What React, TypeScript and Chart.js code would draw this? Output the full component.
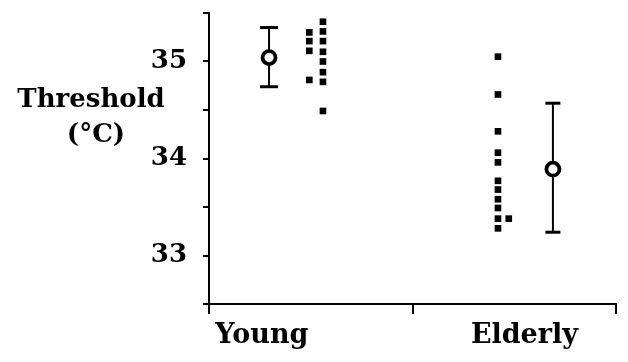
import React, { useEffect, useRef } from "react";
import { Chart, registerables } from "chart.js";

Chart.register(...registerables);

// ---- data ----
const categories = ["Young", "Elderly"];
const categoryLabelX = [0.26, 1.55];
const meanX = [0.295, 1.69];
const means = [35.04, 33.89];
const errLow = [34.74, 33.24];
const errHigh = [35.35, 34.57];

const youngColAX = 0.493;
const youngColA = [35.3, 35.21, 35.11, 34.81];
const youngColBX = 0.56;
const youngColB = [35.41, 35.31, 35.21, 35.1, 35.0, 34.89, 34.79, 34.49];

const elderlyColAX = 1.42;
const elderlyColA = [35.05, 34.66, 34.28, 34.06, 33.96, 33.77, 33.68, 33.58, 33.49, 33.38, 33.28];
const elderlyColBX = 1.473;
const elderlyColB = [33.38];

const yMin = 32.5;
const yMax = 35.5;
const yStep = 0.5;
const yLabels = [33, 34, 35];
const xTickValues = [0, 1, 2];
const yTitleLines = ["Threshold", "(°C)"];

const FONT = "'DejaVu Serif', 'Liberation Serif', serif";

export default function App() {
  const ref = useRef<HTMLCanvasElement | null>(null);

  useEffect(() => {
    if (!ref.current) return;

    const toPts = (x: number, ys: number[]) => ys.map((y) => ({ x, y }));

    const dotStyle = {
      pointStyle: "rect" as const,
      pointRadius: 4.7,
      pointBackgroundColor: "#000",
      pointBorderWidth: 0,
      showLine: false,
      order: 1,
    };

    const datasets: any[] = [];
    // mean circles (on top)
    datasets.push({
      data: meanX.map((x, i) => ({ x, y: means[i] })),
      pointStyle: "circle",
      pointRadius: 6.5,
      pointBackgroundColor: "#fff",
      pointBorderColor: "#000",
      pointBorderWidth: 3.8,
      showLine: false,
      order: 0,
    });
    datasets.push({ data: toPts(youngColAX, youngColA), ...dotStyle });
    datasets.push({ data: toPts(youngColBX, youngColB), ...dotStyle });
    datasets.push({ data: toPts(elderlyColAX, elderlyColA), ...dotStyle });
    datasets.push({ data: toPts(elderlyColBX, elderlyColB), ...dotStyle });
    // error bars
    meanX.forEach((x, i) => {
      datasets.push({
        data: [
          { x, y: errLow[i] },
          { x, y: errHigh[i] },
        ],
        showLine: true,
        borderColor: "#000",
        borderWidth: 2,
        pointStyle: "line",
        pointRadius: i === 0 ? 9 : 7.5,
        pointBorderColor: "#000",
        pointBorderWidth: 3,
        order: 2,
      });
    });

    const labelsPlugin = {
      id: "labels",
      afterDraw(chart: any) {
        const ctx = chart.ctx;
        const xs = chart.scales.x;
        ctx.save();
        ctx.fillStyle = "#000";
        ctx.textAlign = "center";
        ctx.textBaseline = "middle";
        ctx.font = `bold 27px ${FONT}`;
        categories.forEach((c, i) => {
          ctx.fillText(c, xs.getPixelForValue(categoryLabelX[i]), 336);
        });
        ctx.font = `bold 26px ${FONT}`;
        ctx.fillText(yTitleLines[0], 91, 100);
        ctx.fillText(yTitleLines[1], 96, 135);
        ctx.restore();
      },
    };

    const chart = new Chart(ref.current, {
      type: "scatter",
      data: { datasets },
      options: {
        animation: false,
        responsive: false,
        layout: { padding: { left: 0, right: 5, top: 13, bottom: 0 } },
        plugins: { legend: { display: false }, tooltip: { enabled: false } },
        scales: {
          x: {
            type: "linear",
            min: 0,
            max: 2,
            afterBuildTicks: (s: any) => {
              s.ticks = xTickValues.map((v) => ({ value: v }));
            },
            afterFit: (s: any) => {
              s.height = 58;
              s.paddingLeft = 0;
              s.paddingRight = 0;
            },
            ticks: { display: false },
            grid: {
              drawOnChartArea: false,
              drawTicks: true,
              tickLength: 10,
              color: "#000",
              lineWidth: 2,
            },
            border: { display: true, color: "#000", width: 2 },
          },
          y: {
            type: "linear",
            min: yMin,
            max: yMax,
            afterFit: (s: any) => {
              s.width = 209;
              s.paddingTop = 0;
              s.paddingBottom = 0;
            },
            ticks: {
              stepSize: yStep,
              padding: 16,
              color: "#000",
              font: { family: FONT, size: 26, weight: "bold" },
              callback: (v: any) => (yLabels.includes(Number(v)) ? String(v) : ""),
            },
            grid: {
              drawOnChartArea: false,
              drawTicks: true,
              tickLength: 6,
              color: "#000",
              lineWidth: 2,
            },
            border: { display: true, color: "#000", width: 2 },
          },
        },
      },
      plugins: [labelsPlugin],
    });

    return () => chart.destroy();
  }, []);

  return (
    <div style={{ position: "absolute", left: 0, top: 0, width: 628, height: 362, background: "#fff" }}>
      <canvas ref={ref} width={628} height={362} />
    </div>
  );
}
